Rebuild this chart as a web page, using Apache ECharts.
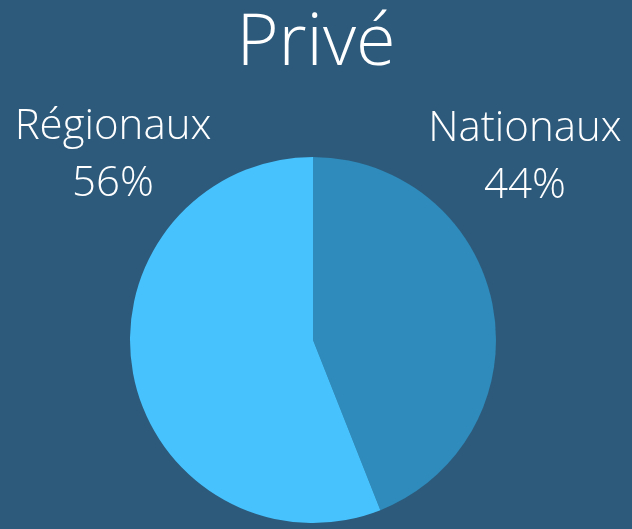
<!DOCTYPE html>
<html>
<head>
<meta charset="utf-8">
<script src="https://cdn.jsdelivr.net/npm/echarts@6/dist/echarts.min.js"></script>
<style>
  html, body { margin: 0; padding: 0; background: #2d5a7b; }
  #main { width: 632px; height: 529px; }
</style>
</head>
<body>
<div id="main"></div>
<script>
var categories = ['Nationaux', 'Régionaux'];
var values = [44, 56];
var colors = ['#2e8bbb', '#47c2fd'];
var labelPos = [[525, 158], [113, 156]];

var chart = echarts.init(document.getElementById('main'));
chart.setOption({
    backgroundColor: '#2d5a7b',
    title: {
        text: 'Privé',
        left: 'center',
        top: 3,
        textStyle: {
            color: '#ffffff',
            fontFamily: 'Open Sans',
            fontWeight: 300,
            fontSize: 72
        }
    },
    series: [
        {
            type: 'pie',
            center: [313, 340],
            radius: 183,
            startAngle: 90,
            clockwise: true,
            silent: true,
            data: categories.map(function (c, i) {
                return { name: c, value: values[i], itemStyle: { color: colors[i] } };
            }),
            label: {
                show: true,
                position: 'outside',
                alignTo: 'none',
                overflow: 'none',
                formatter: '{b}\n{d}%',
                color: '#ffffff',
                fontFamily: 'Open Sans',
                fontWeight: 300,
                fontSize: 42,
                lineHeight: 57,
                align: 'center'
            },
            labelLine: { show: false },
            labelLayout: function (p) {
                var pos = labelPos[p.dataIndex];
                return { x: pos[0], y: pos[1], align: 'center', verticalAlign: 'middle', width: 260 };
            }
        }
    ]
});
</script>
</body>
</html>
